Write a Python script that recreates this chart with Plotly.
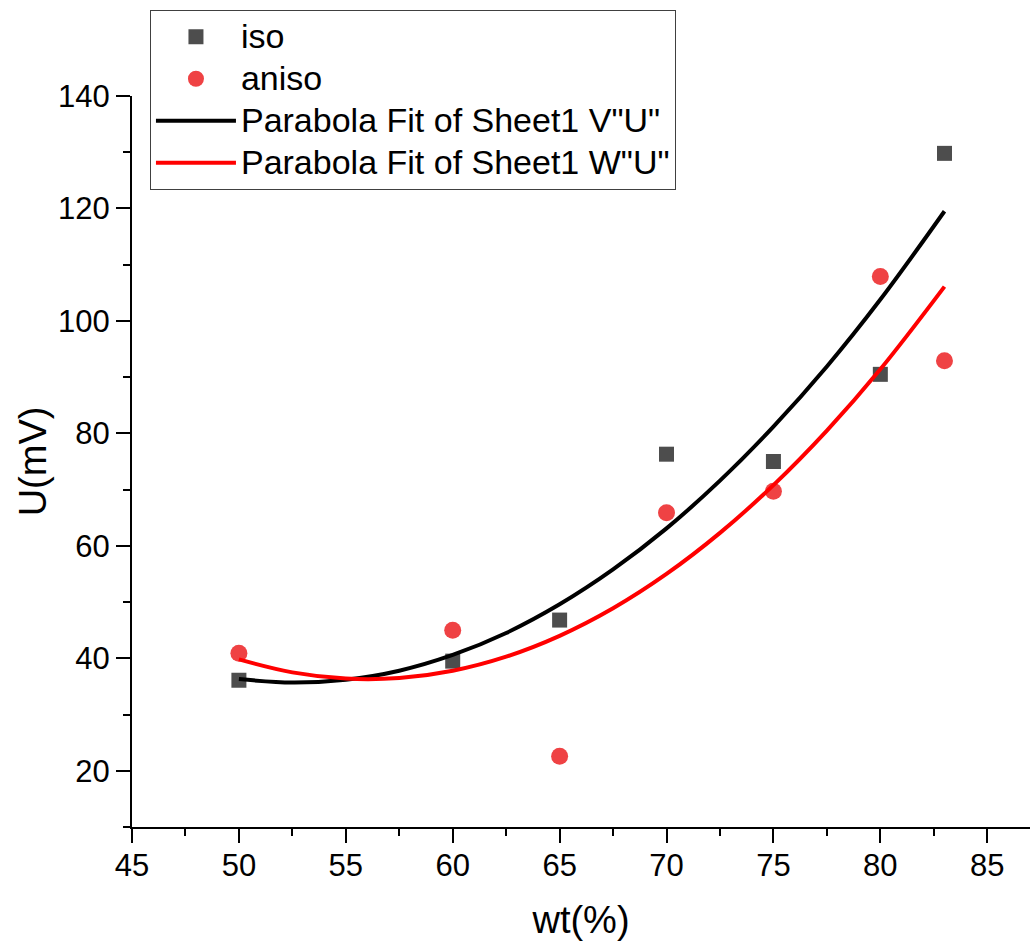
import plotly.graph_objects as go

# ---- data ----
wt = [50, 60, 65, 70, 75, 80, 83]
iso = [36.1, 39.5, 46.8, 76.3, 75.0, 90.5, 129.8]
aniso = [40.9, 45.0, 22.6, 65.9, 69.7, 107.9, 92.9]

fit_x = [50, 52.5, 55, 57.5, 60, 62.5, 65, 67.5, 70, 72.5, 75, 77.5, 80, 83]
fit_iso = [36.3, 35.7, 36.2, 37.8, 40.6, 44.5, 49.6, 55.8, 63.1, 71.6, 81.2, 91.9, 103.8, 119.5]
fit_aniso = [39.8, 37.5, 36.4, 36.5, 37.8, 40.3, 44.0, 48.9, 55.0, 62.3, 70.8, 80.5, 91.4, 106.1]

x_ticks = [45, 50, 55, 60, 65, 70, 75, 80, 85]
y_ticks = [20, 40, 60, 80, 100, 120, 140]

names = ["iso", "aniso", 'Parabola Fit of Sheet1 V"U"', 'Parabola Fit of Sheet1 W"U"']

FONT = "Arial, Liberation Sans, sans-serif"


def leg(txt):
    return '<span style="font-size:34px">' + txt + '</span>'


fig = go.Figure()
fig.add_trace(go.Scatter(x=wt, y=iso, mode="markers", name=leg(names[0]),
                         marker=dict(symbol="square", size=15, color="#4d4d4d",
                                     line=dict(width=0))))
fig.add_trace(go.Scatter(x=wt, y=aniso, mode="markers", name=leg(names[1]),
                         marker=dict(symbol="circle", size=17, color="#ef4244",
                                     line=dict(width=0))))
fig.add_trace(go.Scatter(x=fit_x, y=fit_iso, mode="lines", name=leg(names[2]),
                         line=dict(color="black", width=4, shape="spline")))
fig.add_trace(go.Scatter(x=fit_x, y=fit_aniso, mode="lines", name=leg(names[3]),
                         line=dict(color="#ff0000", width=4, shape="spline")))

axis_common = dict(
    showgrid=False, zeroline=False, showline=True, linecolor="black", linewidth=2,
    ticks="outside", tickcolor="black", tickwidth=2, ticklen=14,
    tickfont=dict(family=FONT, size=31, color="black"),
)

fig.update_layout(
    width=1033, height=941,
    margin=dict(l=132, r=3, t=96, b=114),
    paper_bgcolor="white", plot_bgcolor="white",
    font=dict(family=FONT, color="black"),
    xaxis=dict(range=[45, 87], tickvals=x_ticks,
               minor=dict(ticks="outside", dtick=2.5, tick0=45, ticklen=7,
                          tickwidth=2, tickcolor="black"),
               ticklabelstandoff=-4,
               title=dict(text="wt(%)", font=dict(family=FONT, size=38), standoff=28),
               **axis_common),
    yaxis=dict(range=[10, 140], tickvals=y_ticks,
               minor=dict(ticks="outside", dtick=10, tick0=10, ticklen=7,
                          tickwidth=2, tickcolor="black"),
               title=dict(text="U(mV)", font=dict(family=FONT, size=38), standoff=0),
               **axis_common),
    showlegend=True,
    legend=dict(x=0.02, y=1.118, xanchor="left", yanchor="top",
                bgcolor="white", bordercolor="#404040", borderwidth=1,
                font=dict(family=FONT, size=30, color="black"),
                itemwidth=80, tracegroupgap=0),
)

fig.write_html("out.html")
